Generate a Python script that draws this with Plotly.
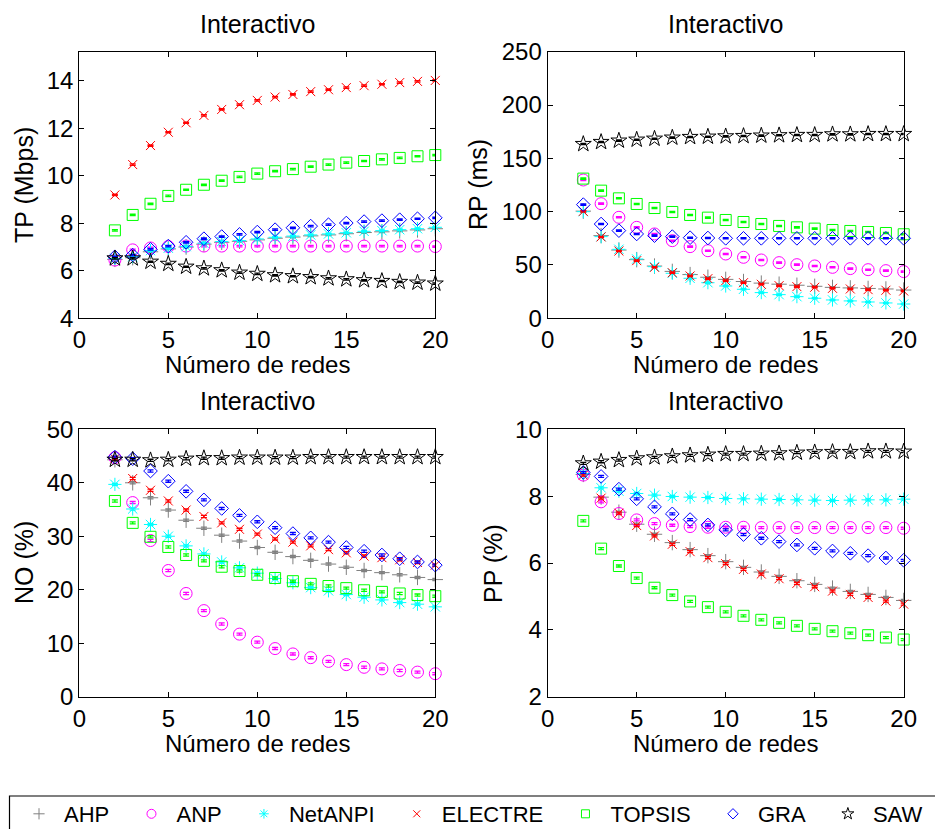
import plotly.graph_objects as go

# ---------------- data ----------------
redes = list(range(2, 21))
metodos = ["AHP", "ANP", "NetANPI", "ELECTRE", "TOPSIS", "GRA", "SAW"]

# TP (Mbps)
tp_ahp = [6.48, 6.55, 6.80, 6.92, 7.00, 7.12, 7.20, 7.24, 7.30, 7.37, 7.42, 7.47, 7.51, 7.56, 7.61, 7.64, 7.68, 7.72, 7.77]
tp_anp = [6.45, 6.88, 6.96, 7.02, 7.04, 7.04, 7.04, 7.04, 7.04, 7.04, 7.04, 7.04, 7.04, 7.04, 7.04, 7.04, 7.04, 7.04, 7.02]
tp_netanpi = [6.52, 6.59, 6.85, 6.95, 7.02, 7.16, 7.23, 7.27, 7.34, 7.41, 7.46, 7.51, 7.55, 7.60, 7.66, 7.69, 7.73, 7.77, 7.83]
tp_electre = [9.19, 10.47, 11.27, 11.83, 12.23, 12.54, 12.79, 12.99, 13.17, 13.31, 13.42, 13.54, 13.62, 13.71, 13.79, 13.85, 13.92, 13.97, 14.01]
tp_topsis = [7.70, 8.35, 8.82, 9.15, 9.41, 9.62, 9.79, 9.95, 10.09, 10.19, 10.28, 10.38, 10.47, 10.55, 10.62, 10.69, 10.75, 10.82, 10.87]
tp_gra = [6.59, 6.66, 6.90, 7.04, 7.20, 7.35, 7.44, 7.53, 7.63, 7.73, 7.81, 7.88, 7.94, 8.01, 8.07, 8.11, 8.15, 8.19, 8.23]
tp_saw = [6.52, 6.52, 6.38, 6.29, 6.17, 6.10, 6.02, 5.92, 5.87, 5.81, 5.77, 5.73, 5.68, 5.64, 5.60, 5.57, 5.53, 5.50, 5.46]

# RP (ms)
rp_ahp = [100.5, 77.5, 64.0, 55.0, 49.0, 44.0, 41.0, 38.5, 36.5, 34.5, 33.0, 32.0, 31.0, 30.0, 29.0, 28.5, 28.0, 27.5, 26.5]
rp_anp = [129.7, 107.5, 94.7, 85.3, 79.1, 72.8, 67.2, 63.4, 60.3, 57.2, 54.7, 52.2, 50.3, 49.1, 47.8, 46.6, 45.6, 44.7, 43.8]
rp_netanpi = [100.0, 76.6, 64.7, 55.6, 48.4, 42.2, 37.5, 33.4, 30.3, 27.2, 24.1, 22.2, 20.3, 18.8, 17.2, 16.3, 15.3, 14.4, 13.4]
rp_electre = [100.3, 76.3, 63.1, 54.1, 47.8, 42.8, 39.7, 37.2, 35.3, 33.4, 31.9, 30.6, 29.7, 29.1, 28.1, 27.5, 26.9, 26.3, 25.6]
rp_topsis = [131.0, 119.7, 112.5, 107.2, 103.4, 99.7, 96.9, 94.4, 92.2, 90.3, 88.4, 86.6, 85.3, 84.1, 82.8, 81.9, 80.9, 80.0, 78.8]
rp_gra = [106.6, 88.4, 82.2, 79.1, 77.5, 76.6, 75.6, 75.3, 75.0, 75.0, 75.0, 75.0, 75.0, 75.0, 75.0, 75.0, 75.0, 75.0, 75.0]
rp_saw = [163.4, 165.3, 166.6, 167.5, 168.4, 169.4, 170.0, 170.3, 170.6, 170.9, 171.3, 171.6, 171.9, 171.9, 172.5, 172.5, 172.8, 172.8, 172.8]

# NO (%)
no_ahp = [44.3, 40.0, 37.2, 34.9, 33.0, 31.5, 30.2, 29.1, 27.9, 27.0, 26.2, 25.5, 24.8, 24.2, 23.6, 23.2, 22.8, 22.3, 21.9]
no_anp = [44.7, 36.3, 29.2, 23.6, 19.3, 16.1, 13.6, 11.7, 10.2, 9.0, 8.0, 7.3, 6.6, 6.0, 5.5, 5.2, 4.9, 4.6, 4.3]
no_netanpi = [39.7, 35.1, 32.2, 30.0, 28.2, 26.7, 25.2, 24.1, 23.1, 22.1, 21.3, 20.4, 19.8, 19.1, 18.6, 18.1, 17.6, 17.3, 16.8]
no_electre = [44.5, 40.8, 38.6, 36.6, 34.9, 33.7, 32.5, 31.3, 30.4, 29.5, 28.9, 28.2, 27.5, 26.9, 26.3, 26.0, 25.6, 25.1, 24.6]
no_topsis = [36.6, 32.5, 29.9, 28.0, 26.5, 25.4, 24.3, 23.5, 22.8, 22.2, 21.6, 21.1, 20.7, 20.3, 19.9, 19.6, 19.3, 19.0, 18.8]
no_gra = [44.8, 44.5, 42.2, 40.3, 38.4, 36.8, 35.2, 33.9, 32.7, 31.6, 30.5, 29.7, 28.9, 27.9, 27.2, 26.5, 25.8, 25.2, 24.6]
no_saw = [44.3, 44.3, 44.2, 44.3, 44.5, 44.6, 44.6, 44.7, 44.7, 44.7, 44.7, 44.8, 44.8, 44.8, 44.8, 44.8, 44.8, 44.8, 44.8]

# PP (%)
pp_ahp = [8.65, 7.97, 7.52, 7.16, 6.86, 6.61, 6.40, 6.22, 6.04, 5.87, 5.73, 5.60, 5.47, 5.36, 5.25, 5.15, 5.06, 4.97, 4.88]
pp_anp = [8.63, 7.83, 7.48, 7.29, 7.18, 7.13, 7.09, 7.07, 7.07, 7.07, 7.06, 7.06, 7.06, 7.06, 7.06, 7.06, 7.06, 7.06, 7.04]
pp_netanpi = [8.68, 8.25, 8.15, 8.08, 8.03, 7.99, 7.97, 7.96, 7.93, 7.92, 7.91, 7.90, 7.89, 7.88, 7.87, 7.88, 7.89, 7.89, 7.91]
pp_electre = [8.63, 7.94, 7.49, 7.12, 6.81, 6.56, 6.34, 6.16, 5.98, 5.81, 5.67, 5.53, 5.39, 5.29, 5.16, 5.06, 4.97, 4.86, 4.77]
pp_topsis = [7.26, 6.43, 5.91, 5.55, 5.26, 5.04, 4.85, 4.68, 4.54, 4.42, 4.30, 4.21, 4.12, 4.03, 3.96, 3.90, 3.84, 3.77, 3.71]
pp_gra = [8.71, 8.59, 8.21, 7.92, 7.68, 7.47, 7.30, 7.14, 6.99, 6.85, 6.74, 6.64, 6.54, 6.44, 6.36, 6.29, 6.22, 6.15, 6.08]
pp_saw = [8.98, 9.03, 9.08, 9.13, 9.16, 9.19, 9.22, 9.24, 9.26, 9.26, 9.27, 9.28, 9.30, 9.31, 9.32, 9.32, 9.34, 9.34, 9.33]

# small confidence half-widths shown as tiny error bars
err_tp = 0.03
err_rp = 0.6
err_no = 0.2
err_pp = 0.03

paneles = [
    dict(nombre="TP (Mbps)", datos=[tp_ahp, tp_anp, tp_netanpi, tp_electre, tp_topsis, tp_gra, tp_saw],
         err=err_tp, yrange=[4, 15.22], ytick=[4, 6, 8, 10, 12, 14]),
    dict(nombre="RP (ms)", datos=[rp_ahp, rp_anp, rp_netanpi, rp_electre, rp_topsis, rp_gra, rp_saw],
         err=err_rp, yrange=[0, 250], ytick=[0, 50, 100, 150, 200, 250]),
    dict(nombre="NO (%)", datos=[no_ahp, no_anp, no_netanpi, no_electre, no_topsis, no_gra, no_saw],
         err=err_no, yrange=[0, 50], ytick=[0, 10, 20, 30, 40, 50]),
    dict(nombre="PP (%)", datos=[pp_ahp, pp_anp, pp_netanpi, pp_electre, pp_topsis, pp_gra, pp_saw],
         err=err_pp, yrange=[2, 10], ytick=[2, 4, 6, 8, 10]),
]

# ---------------- styles ----------------
W, H = 935, 829
colores = ["#808080", "#FF00FF", "#00FFFF", "#FF0000", "#00FF00", "#0000FF", "#000000"]
simbolos = ["cross-thin-open", "circle-open", "asterisk-open", "x-thin-open",
            "square-open", "diamond-open", "star-open"]
tamanos = [11, 12, 11, 9, 11, 10.5, 12]
tamanos_leyenda = [8, 9, 8, 7, 8, 8, 9]
FONT = "Liberation Sans, Arial, Helvetica, sans-serif"

# pixel boxes (left, right, top, bottom)
cajas = [
    (79.3, 435.3, 51.7, 318.3),
    (547.7, 903.7, 51.7, 318.3),
    (79.3, 435.3, 429.3, 696.7),
    (547.7, 903.7, 429.3, 696.7),
]
ylab_x = [24, 478, 24, 493]

fig = go.Figure()
layout = dict(
    width=W, height=H, margin=dict(l=0, r=0, t=0, b=0, autoexpand=False),
    paper_bgcolor="white", plot_bgcolor="white",
    font=dict(family=FONT, color="black", size=24),
    showlegend=True,
)
annotations = []

for i, (panel, caja) in enumerate(zip(paneles, cajas)):
    l, r, t, b = caja
    xa = "xaxis" if i == 0 else f"xaxis{i+1}"
    ya = "yaxis" if i == 0 else f"yaxis{i+1}"
    xref = "x" if i == 0 else f"x{i+1}"
    yref = "y" if i == 0 else f"y{i+1}"
    ax_common = dict(showline=True, linecolor="black", linewidth=1.2, mirror="ticks",
                     ticks="inside", ticklen=5, tickwidth=1, tickcolor="black",
                     showgrid=False, zeroline=False, automargin=False,
                     tickfont=dict(family=FONT, size=24, color="black"))
    layout[xa] = dict(domain=[l / W, r / W], range=[0, 20], tickvals=[0, 5, 10, 15, 20],
                      anchor=yref, **ax_common)
    layout[ya] = dict(domain=[1 - b / H, 1 - t / H], range=panel["yrange"], tickvals=panel["ytick"],
                      anchor=xref, **ax_common)
    for k, serie in enumerate(panel["datos"]):
        fig.add_trace(go.Scatter(
            x=redes, y=serie, mode="markers", xaxis=xref, yaxis=yref,
            name=metodos[k], showlegend=False, cliponaxis=False,
            marker=dict(symbol=simbolos[k], size=tamanos[k], color=colores[k],
                        line=dict(width=1, color=colores[k])),
            error_y=dict(type="constant", value=panel["err"], color=colores[k],
                         thickness=1.3, width=3),
        ))
    cx = (l + r) / 2
    annotations.append(dict(text="Interactivo", x=cx / W, y=1 - (t - 28) / H, xref="paper", yref="paper",
                            xanchor="center", yanchor="middle", showarrow=False,
                            font=dict(family=FONT, size=25, color="black")))
    annotations.append(dict(text="Número de redes", x=cx / W, y=1 - (b + 46.5) / H, xref="paper", yref="paper",
                            xanchor="center", yanchor="middle", showarrow=False,
                            font=dict(family=FONT, size=24, color="black")))
    annotations.append(dict(text=panel["nombre"], x=ylab_x[i] / W, y=1 - ((t + b) / 2) / H,
                            xref="paper", yref="paper", textangle=-90,
                            xanchor="center", yanchor="middle", showarrow=False,
                            font=dict(family=FONT, size=25, color="black")))

# legend entries with small markers
for k, m in enumerate(metodos):
    fig.add_trace(go.Scatter(
        x=[None], y=[None], mode="markers", name=m + "\u00a0\u00a0", showlegend=True,
        marker=dict(symbol=simbolos[k], size=tamanos_leyenda[k], color=colores[k],
                    line=dict(width=1, color=colores[k])),
    ))

layout["legend"] = dict(orientation="h", x=14 / W, y=1 - 814 / H, xanchor="left", yanchor="middle",
                        font=dict(family=FONT, size=22, color="black"),
                        bgcolor="rgba(0,0,0,0)", borderwidth=0, itemwidth=40)
layout["shapes"] = [dict(type="rect", xref="paper", yref="paper",
                         x0=9.5 / W, x1=1.02, y0=1 - 796 / H, y1=-0.02,
                         line=dict(color="black", width=1.2), fillcolor="rgba(0,0,0,0)")]
layout["annotations"] = annotations
fig.update_layout(**layout)
fig.write_html("out.html")
